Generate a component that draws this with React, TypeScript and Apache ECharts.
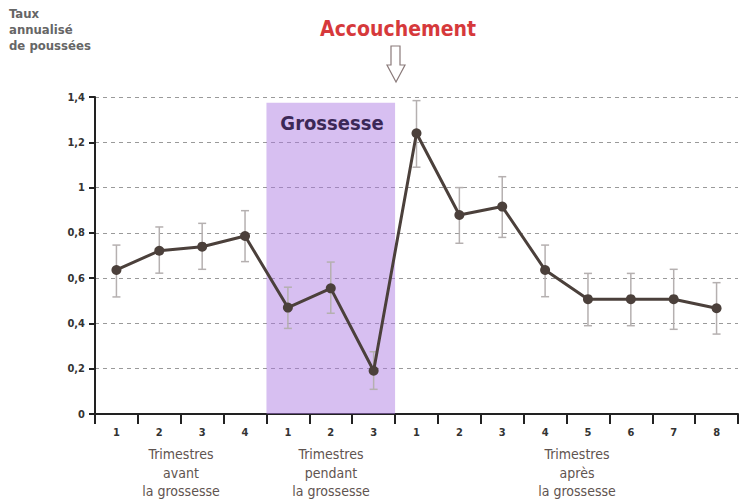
import React, { useEffect, useRef } from "react";
import * as echarts from "echarts";

const categories = ["1", "2", "3", "4", "1", "2", "3", "1", "2", "3", "4", "5", "6", "7", "8"];
const rates = [0.636, 0.721, 0.739, 0.786, 0.47, 0.555, 0.191, 1.24, 0.879, 0.916, 0.636, 0.507, 0.507, 0.507, 0.467];
const errLow = [0.517, 0.622, 0.639, 0.673, 0.378, 0.445, 0.109, 1.09, 0.754, 0.78, 0.518, 0.39, 0.39, 0.374, 0.353];
const errHigh = [0.746, 0.826, 0.842, 0.898, 0.56, 0.671, 0.275, 1.384, 1.0, 1.048, 0.746, 0.621, 0.621, 0.639, 0.58];
const pregnancyBand = [4, 6];
const pregnancyBandTop = 1.375;
const yTicks = [0, 0.2, 0.4, 0.6, 0.8, 1, 1.2, 1.4];

const FONT = "'DejaVu Sans Condensed', 'Liberation Sans Narrow', 'Open Sans', sans-serif";

export default function App() {
  const ref = useRef<HTMLDivElement>(null);
  useEffect(() => {
    if (!ref.current) return;
    const chart = echarts.init(ref.current, undefined, { renderer: "svg" });
    const errData = categories.map((_, i) => [i, errLow[i], errHigh[i]]);
    chart.setOption({
      animation: false,
      backgroundColor: "#ffffff",
      grid: { left: 95, right: 2, top: 97, bottom: 88, containLabel: false },
      xAxis: {
        type: "category",
        data: categories,
        boundaryGap: true,
        axisLine: { show: true, lineStyle: { color: "#222", width: 2 } },
        axisTick: { show: true, alignWithLabel: false, length: 10, inside: false, lineStyle: { color: "#222", width: 2 } },
        axisLabel: { color: "#333", fontSize: 11, fontWeight: "bold", fontFamily: FONT, margin: 13 },
        splitLine: { show: false },
      },
      yAxis: {
        type: "value",
        min: 0,
        max: 1.4,
        interval: 0.2,
        axisLine: { show: true, lineStyle: { color: "#222", width: 2 } },
        axisTick: { show: true, length: 6, lineStyle: { color: "#222", width: 2 } },
        axisLabel: {
          color: "#333",
          fontSize: 11,
          fontWeight: "bold",
          fontFamily: FONT,
          margin: 10,
          formatter: (v: number) => {
            const t = yTicks.find((k) => Math.abs(k - v) < 1e-6);
            const val = t === undefined ? v : t;
            return String(Math.round(val * 10) / 10).replace(".", ",");
          },
        },
        splitLine: { show: true, lineStyle: { color: "#9a9a9a", width: 1, type: [4, 4] } },
      },
      series: [
        {
          type: "custom",
          z: 1,
          silent: true,
          data: [[pregnancyBand[0], pregnancyBand[1], pregnancyBandTop]],
          renderItem: (params: any, api: any) => {
            const bw = api.size([1, 0])[0];
            const p1 = api.coord([api.value(0), api.value(2)]);
            const p2 = api.coord([api.value(1), 0]);
            return {
              type: "rect",
              shape: { x: p1[0] - bw / 2, y: p1[1], width: p2[0] - p1[0] + bw, height: p2[1] - p1[1] },
              style: { fill: "rgba(170,120,225,0.47)" },
            };
          },
        },
        {
          type: "custom",
          z: 3,
          silent: true,
          data: errData,
          renderItem: (params: any, api: any) => {
            const lo = api.coord([api.value(0), api.value(1)]);
            const hi = api.coord([api.value(0), api.value(2)]);
            const c = 4;
            const st = { stroke: "#b5b0b0", lineWidth: 1.5 };
            return {
              type: "group",
              children: [
                { type: "line", shape: { x1: lo[0], y1: lo[1], x2: hi[0], y2: hi[1] }, style: st },
                { type: "line", shape: { x1: lo[0] - c, y1: lo[1], x2: lo[0] + c, y2: lo[1] }, style: st },
                { type: "line", shape: { x1: hi[0] - c, y1: hi[1], x2: hi[0] + c, y2: hi[1] }, style: st },
              ],
            };
          },
        },
        {
          type: "line",
          z: 5,
          data: rates,
          symbol: "circle",
          symbolSize: 10,
          lineStyle: { color: "#4b403b", width: 3 },
          itemStyle: { color: "#4b403b" },
        },
      ],
      graphic: [
        {
          type: "text",
          left: 9,
          top: 5,
          style: {
            text: "Taux\nannualisé\nde poussées",
            fill: "#666",
            font: `bold 13px ${FONT}`,
            lineHeight: 16,
          },
        },
        {
          type: "text",
          x: 398,
          y: 29,
          style: {
            text: "Accouchement",
            fill: "#d6393b",
            font: `bold 21px ${FONT}`,
            textAlign: "center",
            textVerticalAlign: "middle",
          },
        },
        {
          type: "polygon",
          shape: {
            points: [
              [391, 46],
              [400, 46],
              [400, 65],
              [405, 65],
              [396, 82],
              [387, 65],
              [391, 65],
            ],
          },
          style: { fill: "#ffffff", stroke: "#8a7a7a", lineWidth: 1.2 },
        },
        {
          type: "text",
          x: 332,
          y: 123,
          z: 10,
          style: {
            text: "Grossesse",
            fill: "#3b2857",
            font: `bold 20px ${FONT}`,
            textAlign: "center",
            textVerticalAlign: "middle",
          },
        },
        {
          type: "text",
          x: 181,
          y: 445,
          style: {
            text: "Trimestres\navant\nla grossesse",
            fill: "#5f5450",
            font: `14px ${FONT}`,
            textAlign: "center",
            lineHeight: 18.5,
          },
        },
        {
          type: "text",
          x: 331,
          y: 445,
          style: {
            text: "Trimestres\npendant\nla grossesse",
            fill: "#5f5450",
            font: `14px ${FONT}`,
            textAlign: "center",
            lineHeight: 18.5,
          },
        },
        {
          type: "text",
          x: 577,
          y: 445,
          style: {
            text: "Trimestres\naprès\nla grossesse",
            fill: "#5f5450",
            font: `14px ${FONT}`,
            textAlign: "center",
            lineHeight: 18.5,
          },
        },
      ],
    });
    return () => chart.dispose();
  }, []);
  return <div ref={ref} style={{ width: 740, height: 502, position: "absolute", left: 0, top: 0 }} />;
}
